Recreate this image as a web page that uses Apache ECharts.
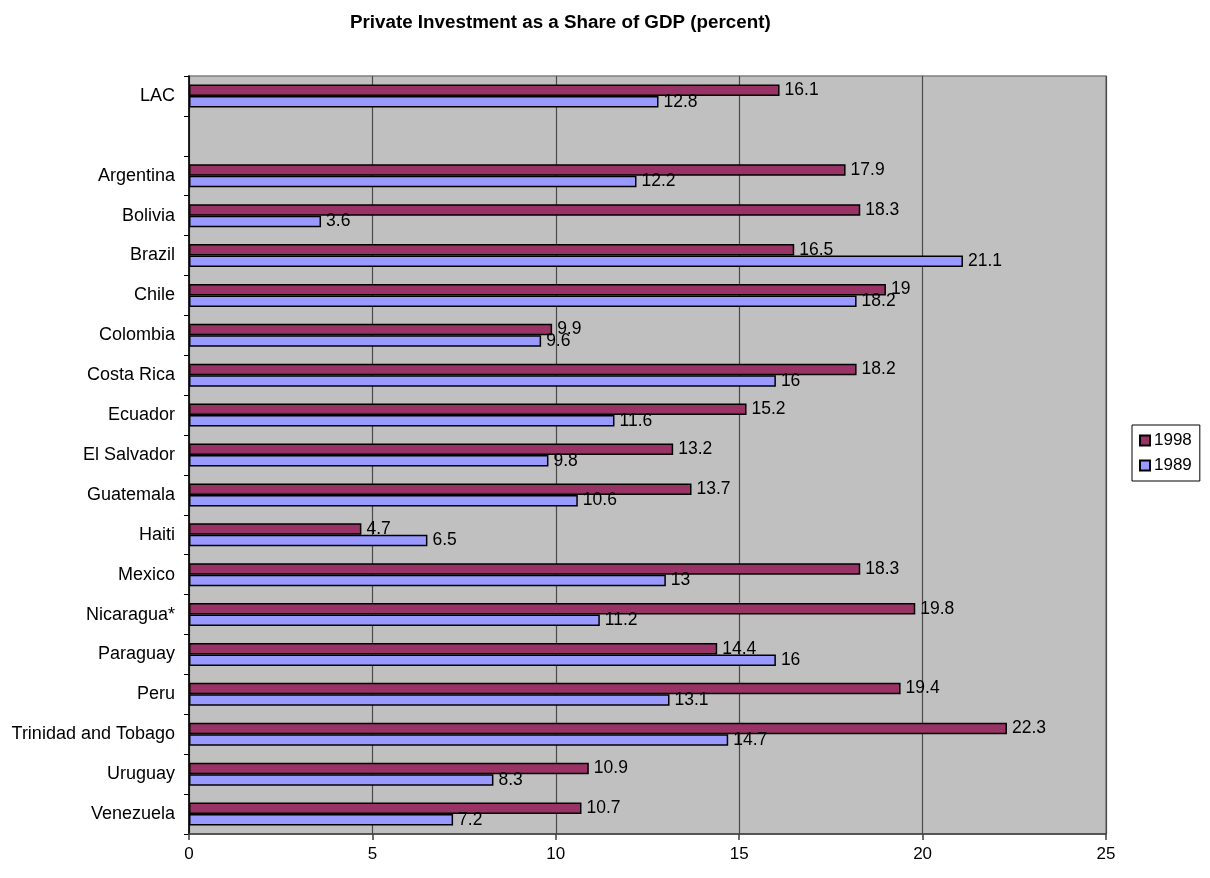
<!DOCTYPE html>
<html>
<head>
<meta charset="utf-8">
<title>Private Investment as a Share of GDP</title>
<script src="https://cdn.jsdelivr.net/npm/echarts@6/dist/echarts.min.js"></script>
<style>
  html, body { margin: 0; padding: 0; background: #ffffff; }
  #chart { width: 1210px; height: 878px; }
</style>
</head>
<body>
<div id="chart"></div>
<script>
// Countries (with a blank spacer row after the regional aggregate)
const categories = [
  'LAC', '', 'Argentina', 'Bolivia', 'Brazil', 'Chile', 'Colombia', 'Costa Rica',
  'Ecuador', 'El Salvador', 'Guatemala', 'Haiti', 'Mexico', 'Nicaragua*',
  'Paraguay', 'Peru', 'Trinidad and Tobago', 'Uruguay', 'Venezuela'
];
// Private investment, percent of GDP
const values1998 = [16.1, null, 17.9, 18.3, 16.5, 19, 9.9, 18.2, 15.2, 13.2, 13.7, 4.7, 18.3, 19.8, 14.4, 19.4, 22.3, 10.9, 10.7];
const values1989 = [12.8, null, 12.2, 3.6, 21.1, 18.2, 9.6, 16, 11.6, 9.8, 10.6, 6.5, 13, 11.2, 16, 13.1, 14.7, 8.3, 7.2];
const xTicks = [0, 5, 10, 15, 20, 25];

const FONT = "'Liberation Sans', Arial, sans-serif";

const chart = echarts.init(document.getElementById('chart'), null, { renderer: 'canvas' });

const labelStyle = {
  show: true,
  position: 'right',
  distance: 5,
  color: '#000',
  fontFamily: FONT,
  fontSize: 17.5
};

chart.setOption({
  animation: false,
  backgroundColor: '#ffffff',
  title: {
    text: 'Private Investment as a Share of GDP (percent)',
    left: 345,
    top: 8,
    textStyle: { fontFamily: FONT, fontSize: 18.8, fontWeight: 'bold', color: '#000' }
  },
  legend: {
    orient: 'vertical',
    left: 1132,
    top: 425,
    padding: [7, 8, 7, 7],
    itemGap: 8,
    itemWidth: 10,
    itemHeight: 10,
    icon: 'rect',
    borderColor: '#000',
    borderWidth: 1,
    backgroundColor: '#fff',
    textStyle: { fontFamily: FONT, fontSize: 17, color: '#000', padding: [0, 0, 0, -1] },
    data: ['1998', '1989']
  },
  grid: {
    left: 189,
    right: 104,
    top: 76,
    bottom: 44,
    show: true,
    backgroundColor: '#C0C0C0',
    borderColor: '#808080',
    borderWidth: 1.5
  },
  xAxis: {
    type: 'value',
    min: xTicks[0],
    max: xTicks[xTicks.length - 1],
    interval: 5,
    axisLine: { show: true, onZero: false, lineStyle: { color: '#404040', width: 1.5 } },
    axisTick: { show: true, length: 6, lineStyle: { color: '#404040', width: 1.5 } },
    axisLabel: { margin: 12, color: '#000', fontFamily: FONT, fontSize: 17 },
    splitLine: { show: true, lineStyle: { color: '#4a4a4a', width: 1.2 } }
  },
  yAxis: {
    type: 'category',
    inverse: true,
    data: categories,
    axisLine: { show: true, lineStyle: { color: '#000', width: 1.5 } },
    axisTick: { show: true, length: 5, lineStyle: { color: '#000', width: 1 } },
    axisLabel: { margin: 14, color: '#000', fontFamily: FONT, fontSize: 18 },
    splitLine: { show: false }
  },
  series: [
    {
      name: '1998',
      type: 'bar',
      data: values1998,
      barWidth: 11.5,
      barGap: '0%',
      itemStyle: { color: '#993366', borderColor: '#000', borderWidth: 1.5 },
      label: labelStyle
    },
    {
      name: '1989',
      type: 'bar',
      data: values1989,
      barWidth: 11.5,
      barGap: '0%',
      itemStyle: { color: '#9999FF', borderColor: '#000', borderWidth: 1.5 },
      label: labelStyle
    }
  ]
});
</script>
</body>
</html>
